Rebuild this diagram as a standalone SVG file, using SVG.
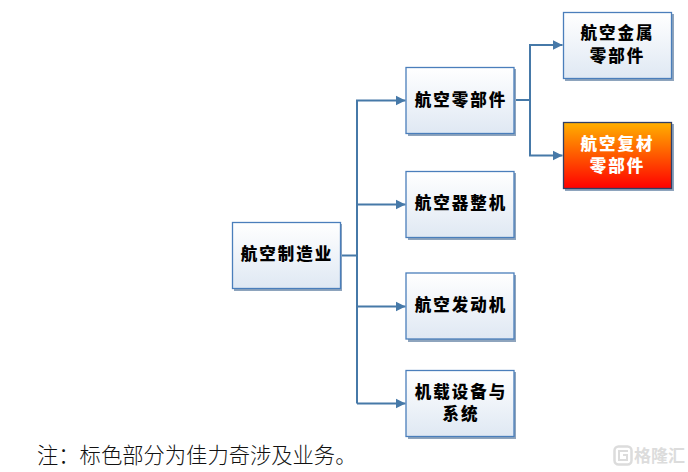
<svg xmlns="http://www.w3.org/2000/svg" width="688" height="472" viewBox="0 0 688 472">
<style>
.shadow{fill:#8ea4bd}
.box{fill:url(#blue);stroke:#4a7ebb;stroke-width:1.3}
.hot{fill:url(#hot);stroke:#2f3f66;stroke-width:1.3}
.t{font-family:"Noto Sans CJK SC","Liberation Serif",sans-serif;font-weight:900;font-size:16.5px;letter-spacing:2px;text-anchor:middle;fill:#000}
.w{fill:#fff}
.c{fill:none;stroke:#4679a8;stroke-width:2}
.note{font-family:"Noto Sans CJK SC","Liberation Serif",sans-serif;font-weight:300;font-size:21.300px;fill:#111}
.wm{font-family:"Noto Sans CJK SC",sans-serif;font-weight:700;font-size:17px;fill:#dcdcdc}
</style>
<defs>
<linearGradient id="blue" x1="0" y1="0" x2="0" y2="1"><stop offset="0" stop-color="#ffffff"/><stop offset="1" stop-color="#dfe8f3"/></linearGradient>
<linearGradient id="hot" x1="0" y1="0" x2="0" y2="1"><stop offset="0" stop-color="#ffb000"/><stop offset="1" stop-color="#ff0000"/></linearGradient>
<marker id="a" markerUnits="userSpaceOnUse" markerWidth="11" markerHeight="11" refX="10" refY="5.500" orient="auto"><path d="M0 0.500L10 5.500L0 10.500z" fill="#4679a8"/></marker>
</defs>
<g id="connectors">
<path class="c" d="M340 255.500H357"/>
<path class="c" d="M357 403.500V100.500H405.500" marker-end="url(#a)"/>
<path class="c" d="M357 204.500H405.500" marker-end="url(#a)"/>
<path class="c" d="M357 306.500H405.500" marker-end="url(#a)"/>
<path class="c" d="M357 403.500H405.500" marker-end="url(#a)"/>
<path class="c" d="M514 100H530"/>
<path class="c" d="M530 100V45H562.500" marker-end="url(#a)"/>
<path class="c" d="M530 100V155.500H562.500" marker-end="url(#a)"/>
</g>
<g id="n1"><rect class="shadow" x="234" y="224" width="108" height="67"/><rect class="box" x="232.500" y="222.500" width="108" height="66"/><text class="t" x="287" y="260">航空制造业</text></g>
<g id="n2"><rect class="shadow" x="408" y="69" width="108" height="67"/><rect class="box" x="406" y="67.500" width="108" height="66"/><text class="t" x="461" y="106">航空零部件</text></g>
<g id="n3"><rect class="shadow" x="408" y="173" width="108" height="67"/><rect class="box" x="406" y="171.500" width="108" height="66"/><text class="t" x="461" y="209">航空器整机</text></g>
<g id="n4"><rect class="shadow" x="408" y="275" width="108" height="67"/><rect class="box" x="406" y="273" width="108" height="66"/><text class="t" x="461" y="311">航空发动机</text></g>
<g id="n5"><rect class="shadow" x="408" y="372" width="108" height="67"/><rect class="box" x="406" y="370.500" width="108" height="66"/><text class="t" x="461" y="398">机载设备与</text><text class="t" x="461" y="420">系统</text></g>
<g id="n6"><rect class="shadow" x="565" y="14" width="109" height="67"/><rect class="box" x="563.500" y="12.500" width="108" height="66"/><text class="t" x="617.500" y="39">航空金属</text><text class="t" x="617.500" y="62">零部件</text></g>
<g id="n7"><rect class="shadow" x="565" y="124" width="109" height="67"/><rect class="hot" x="563.500" y="122.500" width="108" height="66"/><text class="t w" x="617.500" y="150">航空复材</text><text class="t w" x="617.500" y="172">零部件</text></g>
<text class="note" x="37" y="463">注：标色部分为佳力奇涉及业务。</text>
<g id="watermark"><rect x="614.500" y="446.500" width="17" height="18" rx="4" fill="none" stroke="#dcdcdc" stroke-width="2.500"/><path d="M628 451H619V460H627V455H623" fill="none" stroke="#dcdcdc" stroke-width="2"/><text class="wm" x="634" y="462">格隆汇</text></g>
</svg>
